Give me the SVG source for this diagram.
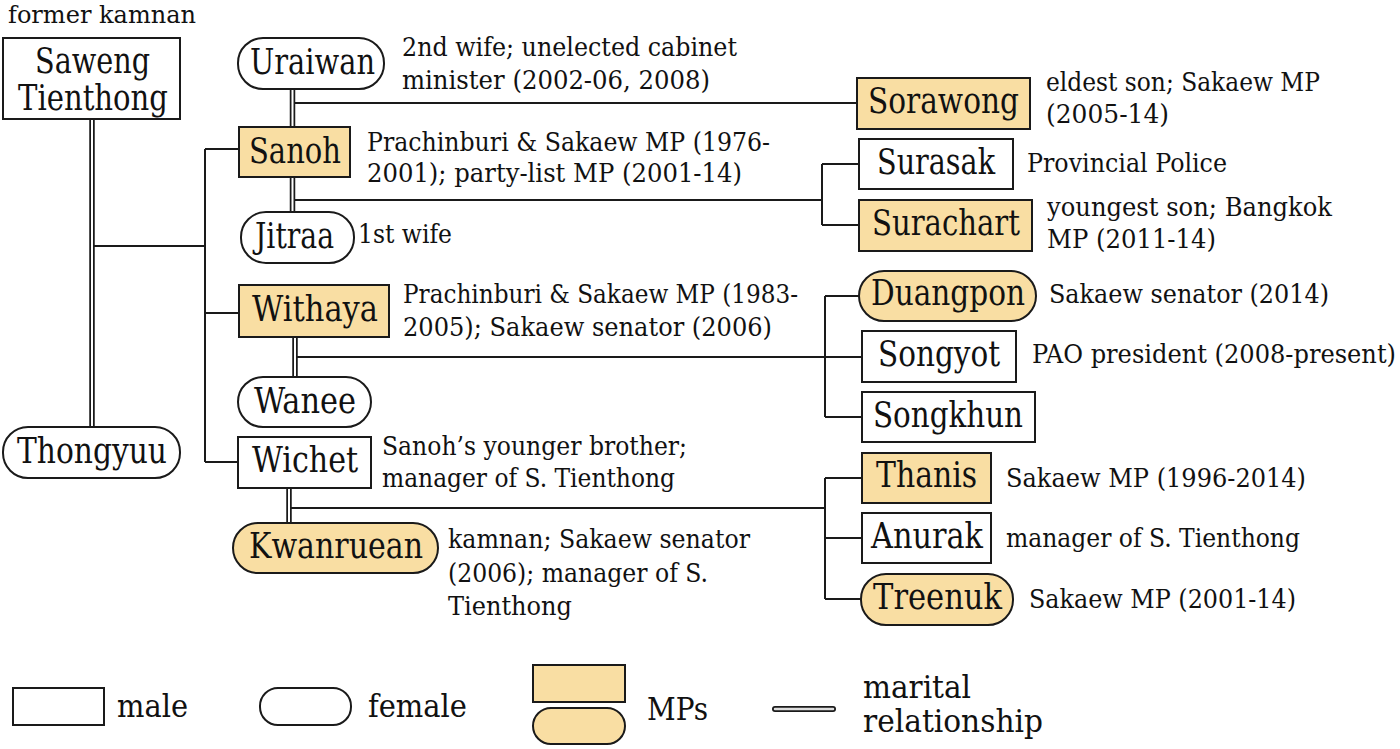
<svg xmlns="http://www.w3.org/2000/svg" width="1400" height="749" viewBox="0 0 1400 749">
<style>
.bx{fill:#fff;stroke:#1a1a1a;stroke-width:2}
.mp{fill:#F9DEA3}
.t{font-family:'DejaVu Serif Condensed','DejaVu Serif','Liberation Serif',serif;fill:#111}
.nm{font-size:35px}
.an{font-size:26px}
.lg{font-size:31px}
.ln{stroke:#1a1a1a;stroke-width:2;fill:none}
.dO{stroke:#1a1a1a;stroke-width:5.5;fill:none}
.dI{stroke:#fff;stroke-width:2;fill:none}
</style>
<rect width="1400" height="749" fill="#fff"/>
<g id="connectors">
<path class="ln" d="M92,246H205M205,149V462M205,149H239M205,313H239M205,462H238"/>
<path class="ln" d="M292,103H857M292,200H822M295,357H825M289,508H825"/>
<path class="ln" d="M822,164V225M822,164H859M822,225H859"/>
<path class="ln" d="M825,296V417M825,296H859M825,357H862M825,417H862"/>
<path class="ln" d="M825,478V599M825,478H862M825,538H862M825,599H861"/>
<path class="dO" d="M92,119V427M292.5,89V127M292.5,177V212M295,337V377M289,488V523"/>
<path class="dI" d="M92,119V427M292.5,89V127M292.5,177V212M295,337V377M289,488V523"/>
</g>
<g id="saweng"><text class="t" font-size="24" x="8" y="23" textLength="188" lengthAdjust="spacingAndGlyphs">former kamnan</text><rect class="bx" x="3" y="38" width="177" height="81"/><text class="t nm" x="35" y="73" textLength="115" lengthAdjust="spacingAndGlyphs">Saweng</text><text class="t nm" x="18" y="110" textLength="150" lengthAdjust="spacingAndGlyphs">Tienthong</text></g>
<g id="thongyuu"><rect class="bx" x="3" y="427" width="177" height="51" rx="25"/><text class="t nm" x="17" y="463" textLength="150" lengthAdjust="spacingAndGlyphs">Thongyuu</text></g>
<g id="uraiwan"><rect class="bx" x="238" y="38" width="146" height="51" rx="25"/><text class="t nm" x="250" y="74" textLength="125" lengthAdjust="spacingAndGlyphs">Uraiwan</text><text class="t an" x="402" y="56" textLength="335" lengthAdjust="spacingAndGlyphs">2nd wife; unelected cabinet</text><text class="t an" x="402" y="89" textLength="308" lengthAdjust="spacingAndGlyphs">minister (2002-06, 2008)</text></g>
<g id="sanoh"><rect class="bx mp" x="239" y="127" width="111" height="50"/><text class="t nm" x="249" y="163" textLength="92" lengthAdjust="spacingAndGlyphs">Sanoh</text><text class="t an" x="367" y="151" textLength="403" lengthAdjust="spacingAndGlyphs">Prachinburi &amp; Sakaew MP (1976-</text><text class="t an" x="367" y="182" textLength="375" lengthAdjust="spacingAndGlyphs">2001); party-list MP (2001-14)</text></g>
<g id="jitraa"><rect class="bx" x="241" y="212" width="113" height="51" rx="25"/><text class="t nm" x="255" y="248" textLength="79" lengthAdjust="spacingAndGlyphs">Jitraa</text><text class="t an" x="358" y="243" textLength="94" lengthAdjust="spacingAndGlyphs">1st wife</text></g>
<g id="withaya"><rect class="bx mp" x="239" y="285" width="150" height="52"/><text class="t nm" x="252" y="321" textLength="126" lengthAdjust="spacingAndGlyphs">Withaya</text><text class="t an" x="403" y="303" textLength="395" lengthAdjust="spacingAndGlyphs">Prachinburi &amp; Sakaew MP (1983-</text><text class="t an" x="403" y="336" textLength="369" lengthAdjust="spacingAndGlyphs">2005); Sakaew senator (2006)</text></g>
<g id="wanee"><rect class="bx" x="238" y="377" width="133" height="50" rx="25"/><text class="t nm" x="254" y="413" textLength="102" lengthAdjust="spacingAndGlyphs">Wanee</text></g>
<g id="wichet"><rect class="bx" x="238" y="437" width="133" height="51"/><text class="t nm" x="252" y="472" textLength="106" lengthAdjust="spacingAndGlyphs">Wichet</text><text class="t an" x="382" y="455" textLength="305" lengthAdjust="spacingAndGlyphs">Sanoh’s younger brother;</text><text class="t an" x="382" y="487" textLength="293" lengthAdjust="spacingAndGlyphs">manager of S. Tienthong</text></g>
<g id="kwanruean"><rect class="bx mp" x="233" y="523" width="205" height="50" rx="25"/><text class="t nm" x="249" y="558" textLength="174" lengthAdjust="spacingAndGlyphs">Kwanruean</text><text class="t an" x="448" y="548" textLength="302" lengthAdjust="spacingAndGlyphs">kamnan; Sakaew senator</text><text class="t an" x="448" y="582" textLength="260" lengthAdjust="spacingAndGlyphs">(2006); manager of S.</text><text class="t an" x="448" y="615" textLength="124" lengthAdjust="spacingAndGlyphs">Tienthong</text></g>
<g id="sorawong"><rect class="bx mp" x="857" y="78" width="173" height="51"/><text class="t nm" x="868" y="113" textLength="151" lengthAdjust="spacingAndGlyphs">Sorawong</text><text class="t an" x="1046" y="91" textLength="274" lengthAdjust="spacingAndGlyphs">eldest son; Sakaew MP</text><text class="t an" x="1046" y="123" textLength="123" lengthAdjust="spacingAndGlyphs">(2005-14)</text></g>
<g id="surasak"><rect class="bx" x="859" y="139" width="154" height="50"/><text class="t nm" x="877" y="174" textLength="118" lengthAdjust="spacingAndGlyphs">Surasak</text><text class="t an" x="1027" y="172" textLength="200" lengthAdjust="spacingAndGlyphs">Provincial Police</text></g>
<g id="surachart"><rect class="bx mp" x="859" y="200" width="173" height="51"/><text class="t nm" x="872" y="235" textLength="148" lengthAdjust="spacingAndGlyphs">Surachart</text><text class="t an" x="1047" y="216" textLength="285" lengthAdjust="spacingAndGlyphs">youngest son;  Bangkok</text><text class="t an" x="1047" y="248" textLength="169" lengthAdjust="spacingAndGlyphs">MP (2011-14)</text></g>
<g id="duangpon"><rect class="bx mp" x="859" y="271" width="177" height="50" rx="25"/><text class="t nm" x="871" y="305" textLength="154" lengthAdjust="spacingAndGlyphs">Duangpon</text><text class="t an" x="1049" y="303" textLength="280" lengthAdjust="spacingAndGlyphs">Sakaew senator (2014)</text></g>
<g id="songyot"><rect class="bx" x="862" y="331" width="154" height="51"/><text class="t nm" x="878" y="366" textLength="122" lengthAdjust="spacingAndGlyphs">Songyot</text><text class="t an" x="1032" y="363" textLength="364" lengthAdjust="spacingAndGlyphs">PAO president (2008-present)</text></g>
<g id="songkhun"><rect class="bx" x="862" y="392" width="173" height="50"/><text class="t nm" x="873" y="427" textLength="150" lengthAdjust="spacingAndGlyphs">Songkhun</text></g>
<g id="thanis"><rect class="bx mp" x="862" y="453" width="129" height="50"/><text class="t nm" x="876" y="487" textLength="101" lengthAdjust="spacingAndGlyphs">Thanis</text><text class="t an" x="1006" y="487" textLength="300" lengthAdjust="spacingAndGlyphs">Sakaew MP (1996-2014)</text></g>
<g id="anurak"><rect class="bx" x="862" y="513" width="129" height="50"/><text class="t nm" x="871" y="548" textLength="112" lengthAdjust="spacingAndGlyphs">Anurak</text><text class="t an" x="1006" y="547" textLength="294" lengthAdjust="spacingAndGlyphs">manager of S. Tienthong</text></g>
<g id="treenuk"><rect class="bx mp" x="861" y="574" width="152" height="51" rx="25"/><text class="t nm" x="873" y="609" textLength="129" lengthAdjust="spacingAndGlyphs">Treenuk</text><text class="t an" x="1029" y="608" textLength="267" lengthAdjust="spacingAndGlyphs">Sakaew MP (2001-14)</text></g>
<g id="legend">
<rect class="bx" x="13" y="688" width="91" height="37"/><text class="t lg" x="117" y="717" textLength="71" lengthAdjust="spacingAndGlyphs">male</text>
<rect class="bx" x="260" y="688" width="91" height="37" rx="18"/><text class="t lg" x="368" y="717" textLength="99" lengthAdjust="spacingAndGlyphs">female</text>
<rect class="bx mp" x="533" y="665" width="92" height="37"/><rect class="bx mp" x="533" y="708" width="92" height="36" rx="18"/><text class="t lg" x="647" y="720" textLength="61" lengthAdjust="spacingAndGlyphs">MPs</text>
<path d="M775,709H833" stroke="#1a1a1a" stroke-width="6" stroke-linecap="round"/><path d="M775,709H833" stroke="#ddd" stroke-width="2.5" stroke-linecap="round"/>
<text class="t lg" x="863" y="698" textLength="108" lengthAdjust="spacingAndGlyphs">marital</text><text class="t lg" x="863" y="732" textLength="180" lengthAdjust="spacingAndGlyphs">relationship</text>
</g>
</svg>
